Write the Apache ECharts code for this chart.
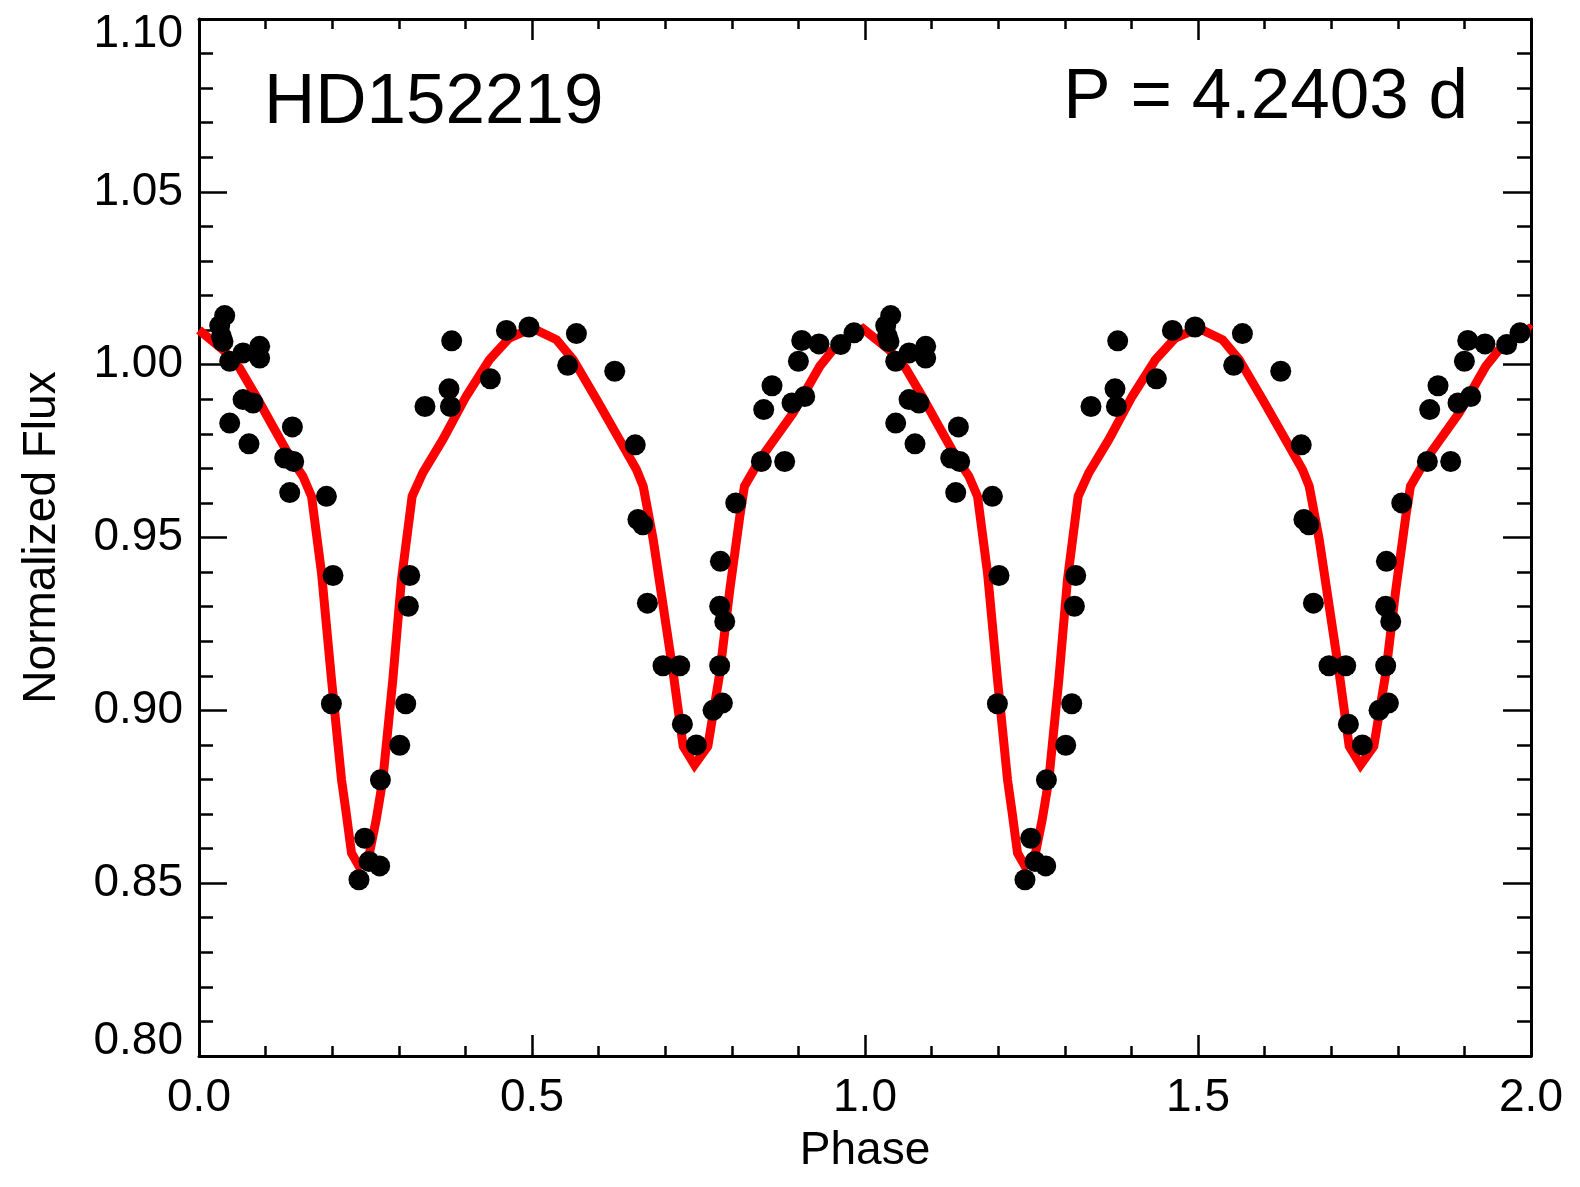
<!DOCTYPE html>
<html>
<head>
<meta charset="utf-8">
<title>HD152219 light curve</title>
<script src="https://cdn.jsdelivr.net/npm/echarts@6/dist/echarts.min.js"></script>
<style>
  html, body { margin: 0; padding: 0; background: #fff; }
  #chart { width: 1580px; height: 1187px; }
</style>
</head>
<body>
<div id="chart"></div>
<script>
// phase-folded photometry, one cycle (phase, normalized flux)
const obsPhase = [0.0386, 0.0311, 0.0336, 0.0360, 0.0461, 0.0662, 0.0911, 0.0911, 0.0662, 0.0811,
  0.0461, 0.0751, 0.1402, 0.1287, 0.1422, 0.1362, 0.1913, 0.2012, 0.1988, 0.2488,
  0.2553, 0.2713, 0.2402, 0.2724, 0.3014, 0.3104, 0.3144, 0.3164, 0.3393, 0.3754,
  0.3775, 0.3794, 0.4375, 0.4616, 0.4955, 0.5667, 0.5536, 0.6242, 0.6550, 0.6590,
  0.6665, 0.6733, 0.6967, 0.7218, 0.7258, 0.7468, 0.7718, 0.7859, 0.7818, 0.7894,
  0.7818, 0.7829, 0.8059, 0.8444, 0.8794, 0.8479, 0.8604, 0.8904, 0.9095, 0.9000,
  0.9050, 0.9309, 0.9635, 0.9835];
const obsFlux = [1.0142, 1.0113, 1.0082, 1.0067, 1.0010, 1.0034, 1.0053, 1.0019, 0.9899, 0.9889,
  0.9831, 0.9771, 0.9820, 0.9730, 0.9720, 0.9630, 0.9619, 0.9390, 0.9019, 0.8630,
  0.8563, 0.8550, 0.8510, 0.8799, 0.8899, 0.9019, 0.9301, 0.9390, 0.9879, 0.9930,
  0.9879, 1.0069, 0.9959, 1.0099, 1.0109, 1.0090, 0.9998, 0.9981, 0.9768, 0.9552,
  0.9537, 0.9310, 0.9129, 0.9129, 0.8960, 0.8900, 0.9000, 0.9021, 0.9129, 0.9257,
  0.9301, 0.9431, 0.9600, 0.9720, 0.9720, 0.9870, 0.9939, 0.9889, 0.9908, 1.0010,
  1.0070, 1.0060, 1.0058, 1.0092];

// model light curve, one cycle
const modelPhase = [0.000, 0.036, 0.061, 0.086, 0.111, 0.136, 0.156, 0.169, 0.184, 0.199,
  0.214, 0.221, 0.229, 0.240, 0.256, 0.266, 0.276, 0.291, 0.304, 0.320,
  0.336, 0.366, 0.401, 0.436, 0.466, 0.500, 0.537, 0.562, 0.597, 0.637,
  0.657, 0.667, 0.682, 0.697, 0.712, 0.727, 0.744, 0.764, 0.782, 0.797,
  0.812, 0.819, 0.842, 0.892, 0.932, 0.962, 0.997];
const modelFlux = [1.0100, 1.0043, 0.9990, 0.9908, 0.9821, 0.9735, 0.9677, 0.9619, 0.9397, 0.9088,
  0.8799, 0.8703, 0.8587, 0.8550, 0.8587, 0.8683, 0.8799, 0.9088, 0.9378, 0.9619,
  0.9687, 0.9783, 0.9908, 1.0014, 1.0077, 1.0106, 1.0072, 1.0014, 0.9899, 0.9764,
  0.9696, 0.9648, 0.9494, 0.9301, 0.9108, 0.8896, 0.8842, 0.8896, 0.9108, 0.9349,
  0.9561, 0.9648, 0.9725, 0.9860, 0.9995, 1.0067, 1.0104];

const yTicks = [0.80, 0.85, 0.90, 0.95, 1.00, 1.05, 1.10];
const xTicks = [0.0, 0.5, 1.0, 1.5, 2.0];

// the folded cycle is plotted twice (phase 0-1 and 1-2)
const points = [];
[0, 1].forEach(k => {
  obsPhase.forEach((p, i) => points.push([p + k, obsFlux[i]]));
});
const model = [];
[0, 1].forEach(k => {
  modelPhase.forEach((p, i) => model.push([p + k, modelFlux[i]]));
});
model.push([2.0, modelFlux[0]]);

const font = '"Liberation Sans", Arial, Helvetica, sans-serif';
const axisLineStyle = { color: '#000', width: 3 };

const option = {
  animation: false,
  backgroundColor: '#fff',
  grid: { left: 199, top: 19, width: 1332, height: 1037, containLabel: false },
  xAxis: [
    {
      type: 'value', min: 0, max: 2, interval: 0.5, position: 'bottom',
      name: 'Phase', nameLocation: 'middle', nameGap: 72,
      nameTextStyle: { fontFamily: font, fontSize: 46, color: '#000' },
      axisLine: { show: true, onZero: false, lineStyle: axisLineStyle },
      axisTick: { show: true, inside: true, length: 21, lineStyle: { color: '#000', width: 2.5 } },
      minorTick: { show: true, splitNumber: 5, length: 10, lineStyle: { color: '#000', width: 2.5 } },
      axisLabel: {
        fontFamily: font, fontSize: 46, color: '#000', margin: 19,
        showMinLabel: true, showMaxLabel: true,
        formatter: v => xTicks.some(t => Math.abs(t - v) < 1e-6) ? v.toFixed(1) : ''
      },
      splitLine: { show: false }
    },
    {
      type: 'value', min: 0, max: 2, interval: 0.5, position: 'top',
      axisLine: { show: true, onZero: false, lineStyle: axisLineStyle },
      axisTick: { show: true, inside: true, length: 21, lineStyle: { color: '#000', width: 2.5 } },
      minorTick: { show: true, splitNumber: 5, length: 10, lineStyle: { color: '#000', width: 2.5 } },
      axisLabel: { show: false },
      splitLine: { show: false }
    }
  ],
  yAxis: [
    {
      type: 'value', min: 0.80, max: 1.10, interval: 0.05, position: 'left',
      name: 'Normalized Flux', nameLocation: 'middle', nameGap: 134, nameRotate: 90,
      nameTextStyle: { fontFamily: font, fontSize: 46, color: '#000' },
      axisLine: { show: true, onZero: false, lineStyle: axisLineStyle },
      axisTick: { show: true, inside: true, length: 28, lineStyle: { color: '#000', width: 2.5 } },
      minorTick: { show: true, splitNumber: 5, length: 14, lineStyle: { color: '#000', width: 2.5 } },
      axisLabel: {
        fontFamily: font, fontSize: 46, color: '#000', margin: 16,
        showMinLabel: true, showMaxLabel: true,
        formatter: v => {
          const s = v.toFixed(2);
          if (Math.abs(v - 1.10) < 1e-6) return '{t|' + s + '}';
          if (Math.abs(v - 0.80) < 1e-6) return '{b|' + s + '}';
          return s;
        },
        rich: {
          t: { fontFamily: font, fontSize: 46, color: '#000', padding: [30, 0, 0, 0] },
          b: { fontFamily: font, fontSize: 46, color: '#000', padding: [0, 0, 30, 0] }
        }
      },
      splitLine: { show: false }
    },
    {
      type: 'value', min: 0.80, max: 1.10, interval: 0.05, position: 'right',
      axisLine: { show: true, onZero: false, lineStyle: axisLineStyle },
      axisTick: { show: true, inside: true, length: 28, lineStyle: { color: '#000', width: 2.5 } },
      minorTick: { show: true, splitNumber: 5, length: 14, lineStyle: { color: '#000', width: 2.5 } },
      axisLabel: { show: false },
      splitLine: { show: false }
    }
  ],
  graphic: [
    {
      type: 'text', x: 264, y: 103,
      style: { text: 'HD152219', font: '71px ' + font, fill: '#000', align: 'left', verticalAlign: 'middle' }
    },
    {
      type: 'text', x: 1468, y: 98,
      style: { text: 'P = 4.2403 d', font: '71px ' + font, fill: '#000', align: 'right', verticalAlign: 'middle' }
    }
  ],
  series: [
    {
      name: 'model', type: 'line', data: model, showSymbol: false, symbol: 'none',
      lineStyle: { color: '#ff0000', width: 9, join: 'miter' }, z: 2
    },
    {
      name: 'data', type: 'scatter', data: points, symbol: 'circle', symbolSize: 21,
      itemStyle: { color: '#000', opacity: 1 }, z: 3
    }
  ]
};

const chart = echarts.init(document.getElementById('chart'));
chart.setOption(option);
</script>
</body>
</html>
